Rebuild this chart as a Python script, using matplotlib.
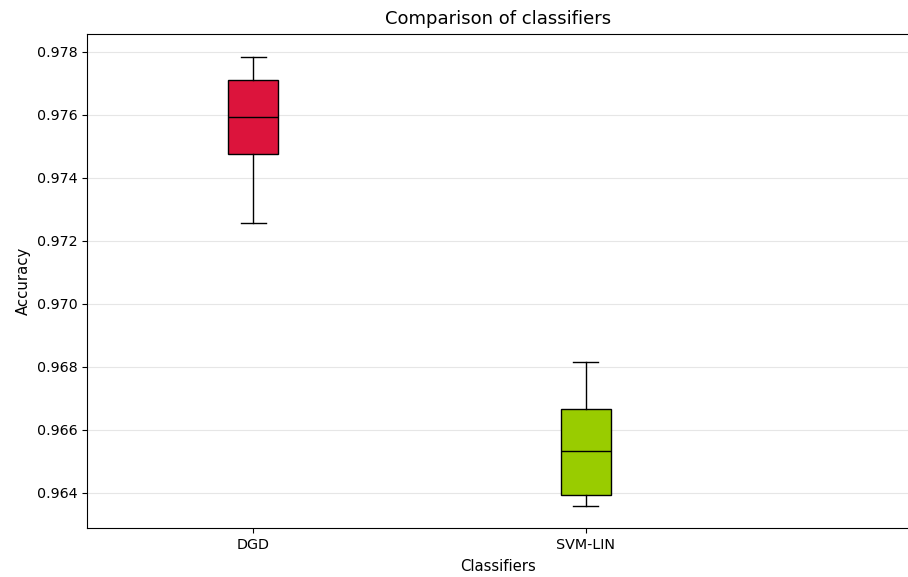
import matplotlib
matplotlib.use("Agg")
import matplotlib.pyplot as plt

classifiers = ["DGD", "SVM-LIN"]
whislo = [0.97257, 0.96359]
q1 = [0.97476, 0.96394]
med = [0.97594, 0.96533]
q3 = [0.97711, 0.96667]
whishi = [0.97784, 0.96816]
colors = ["#DC143C", "#99CC00"]

stats = []
for i, name in enumerate(classifiers):
    stats.append({"label": name, "whislo": whislo[i], "q1": q1[i], "med": med[i],
                  "q3": q3[i], "whishi": whishi[i], "fliers": []})

fig, ax = plt.subplots(figsize=(9.08, 5.77), dpi=100)
fig.subplots_adjust(left=0.096, right=1.0, top=0.941, bottom=0.085)

bp = ax.bxp(stats, positions=[1, 2], widths=0.15, patch_artist=True, showfliers=False,
            medianprops=dict(color="black", linewidth=1),
            boxprops=dict(edgecolor="black", linewidth=1),
            whiskerprops=dict(color="black"), capprops=dict(color="black"))
for patch, c in zip(bp["boxes"], colors):
    patch.set_facecolor(c)

ax.set_xlim(0.5, 2.97)
ax.set_ylim(0.96289, 0.97857)
ax.set_yticks([0.964, 0.966, 0.968, 0.970, 0.972, 0.974, 0.976, 0.978])
ax.tick_params(labelsize=10.3)
ax.yaxis.grid(True, color="#e6e6e6", linewidth=0.8)
ax.set_axisbelow(True)
ax.spines["right"].set_visible(False)
ax.set_title("Comparison of classifiers", fontsize=13, pad=7)
ax.set_xlabel("Classifiers", fontsize=10.7, labelpad=5)
ax.set_ylabel("Accuracy", fontsize=10.7)

fig.savefig("out.png", dpi=100)
